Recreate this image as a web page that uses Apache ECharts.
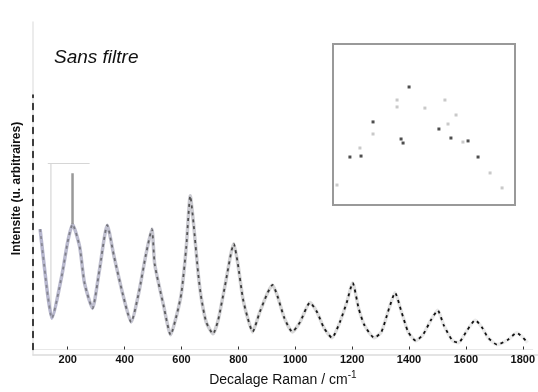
<!DOCTYPE html>
<html>
<head>
<meta charset="utf-8">
<script src="https://cdn.jsdelivr.net/npm/echarts@6/dist/echarts.min.js"></script>
<style>html,body{margin:0;padding:0;background:#fff;}#c{width:538px;height:392px;}</style>
</head>
<body>
<div id="c"></div>
<script>
// Raman shift (cm^-1) and intensity (a.u.)
const ramanShift = [103,113,130,144,179,200,217,242,259,287,311,339,363,395,423,450,475,496,506,537,562,583,600,617,631,642,659,670,687,711,729,753,784,798,816,833,850,875,903,920,937,962,990,1017,1052,1077,1101,1129,1157,1181,1202,1223,1243,1278,1303,1330,1351,1372,1397,1424,1449,1477,1501,1522,1553,1574,1605,1633,1658,1678,1710,1748,1779,1817];
const intensity = [36.9,29.1,16.5,9.6,22.5,33.0,38.4,31.5,20.4,12.6,24.0,38.1,28.5,16.5,8.4,17.4,29.1,36.9,26.1,13.5,4.5,10.5,17.4,31.5,47.1,39.0,23.1,15.6,8.4,4.8,9.0,19.5,32.4,26.4,15.6,9.6,5.4,11.4,17.4,19.8,16.5,9.6,5.4,8.4,14.4,11.4,6.6,3.6,8.4,14.4,20.4,12.6,7.5,3.6,5.4,12.6,17.4,12.0,5.4,2.7,4.5,9.0,12.0,7.5,2.7,2.1,6.0,9.0,6.6,3.6,1.5,3.0,5.1,2.1];
// narrow spike near 217 cm^-1
const spikeShift = [217, 217];
const spikeIntensity = [38.4, 54.0];
// faint bracket near the first peak
const bracketVShift = [141, 141];
const bracketVIntensity = [11, 57];
const bracketHShift = [130, 277];
const bracketHIntensity = [57, 57];
// x tick labels
const xTicks = [200,400,600,800,1000,1200,1400,1600,1800];
// inset scatter points (relative units 0-100)
const insetDarkX = [9.3,15.4,22.0,41.8,37.4,38.5,58.2,64.8,74.2,79.7];
const insetDarkY = [29.8,30.4,51.6,73.3,41.0,38.5,47.2,41.6,39.8,29.8];
const insetLightX = [14.8,22.0,35.2,35.2,50.5,61.5,63.2,67.6,71.4,86.3,92.9,2.2];
const insetLightY = [35.4,44.1,65.2,60.9,60.2,65.2,50.3,55.9,39.1,19.9,10.6,12.4];

const zip = (a, b) => a.map((v, i) => [v, b[i]]);

const chart = echarts.init(document.getElementById('c'), null, {renderer: 'canvas'});
const font = 'Liberation Sans';
chart.setOption({
  animation: false,
  backgroundColor: '#fff',
  title: {
    text: 'Sans filtre', left: 49, top: 43,
    textStyle: {fontFamily: font, fontStyle: 'italic', fontWeight: 'normal', fontSize: 19, color: '#111'}
  },
  grid: [
    {left: 33, right: 0, top: 95, bottom: 37, z: 3},
    {left: 33, right: 0, top: 22, bottom: 37, z: 1},
    {left: 333, top: 44, width: 182, height: 161, show: true, borderColor: '#999', borderWidth: 2, backgroundColor: '#fff', z: 5}
  ],
  xAxis: [
    {
      type: 'value', gridIndex: 0, min: 78, max: 1835,
      axisLine: {show: true, lineStyle: {color: '#e8e8e8', width: 1}},
      axisTick: {show: true, inside: true, length: 3, customValues: xTicks, lineStyle: {color: '#333'}},
      axisLabel: {customValues: xTicks, formatter: v => String(v), fontFamily: font, fontSize: 11, fontWeight: 'bold', color: '#111', margin: 5},
      splitLine: {show: false},
      name: 'Decalage Raman / cm{sup|-1}', nameLocation: 'middle', nameGap: 21,
      nameTextStyle: {fontFamily: font, fontSize: 14, color: '#111',
        rich: {sup: {fontFamily: font, fontSize: 10, color: '#111', verticalAlign: 'top', padding: [0, 0, 9, 0]}}}
    },
    {
      type: 'value', gridIndex: 1, position: 'top', min: 0, max: 1,
      axisLine: {show: true, lineStyle: {color: '#dcdcdc', width: 1.5}},
      axisTick: {show: false}, axisLabel: {show: false}, splitLine: {show: false}
    },
    {type: 'value', gridIndex: 2, min: 0, max: 100, show: false}
  ],
  yAxis: [
    {
      type: 'value', gridIndex: 0, min: 0, max: 78, z: 10,
      axisLine: {show: true, lineStyle: {color: '#111', width: 1.6, type: [6, 6]}},
      axisTick: {show: false}, axisLabel: {show: false}, splitLine: {show: false}
    },
    {
      type: 'value', gridIndex: 1, min: 0, max: 1, z: 0, offset: 1,
      axisLine: {show: true, lineStyle: {color: '#e6e6e6', width: 1.5}},
      axisTick: {show: false}, axisLabel: {show: false}, splitLine: {show: false},
      name: 'Intensite (u. arbitraires)', nameLocation: 'middle', nameGap: 9,
      nameTextStyle: {fontFamily: font, fontSize: 12, fontWeight: 'bold', color: '#111'}
    },
    {type: 'value', gridIndex: 2, min: 0, max: 100, show: false}
  ],
  series: [
    {
      type: 'line', xAxisIndex: 0, yAxisIndex: 0, data: zip(bracketVShift, bracketVIntensity),
      symbol: 'none', lineStyle: {color: '#d6d6d6', width: 1.2}, silent: true
    },
    {
      type: 'line', xAxisIndex: 0, yAxisIndex: 0, data: zip(bracketHShift, bracketHIntensity),
      symbol: 'none', lineStyle: {color: '#d6d6d6', width: 1.2}, silent: true
    },
    {
      type: 'line', xAxisIndex: 0, yAxisIndex: 0, data: zip(ramanShift, intensity),
      symbol: 'none', smooth: 0.2,
      lineStyle: {width: 3.5, color: new echarts.graphic.LinearGradient(0, 0, 1, 0, [
        {offset: 0, color: 'rgba(150,150,185,0.7)'},
        {offset: 0.45, color: 'rgba(170,170,170,0.5)'},
        {offset: 1, color: 'rgba(200,200,200,0.3)'}
      ])}
    },
    {
      type: 'line', xAxisIndex: 0, yAxisIndex: 0, data: zip(ramanShift, intensity),
      symbol: 'none', smooth: 0.2,
      lineStyle: {width: 1.8, type: [3, 4], color: new echarts.graphic.LinearGradient(0, 0, 1, 0, [
        {offset: 0, color: '#8a8a96'},
        {offset: 0.3, color: '#555'},
        {offset: 0.6, color: '#111'},
        {offset: 1, color: '#111'}
      ])}
    },
    {
      type: 'line', xAxisIndex: 0, yAxisIndex: 0, data: zip(spikeShift, spikeIntensity),
      symbol: 'none', lineStyle: {color: '#999', width: 2.5}
    },
    {
      type: 'scatter', xAxisIndex: 2, yAxisIndex: 2, data: zip(insetLightX, insetLightY),
      symbol: 'rect', symbolSize: 3, itemStyle: {color: '#bbb'}, z: 6
    },
    {
      type: 'scatter', xAxisIndex: 2, yAxisIndex: 2, data: zip(insetDarkX, insetDarkY),
      symbol: 'rect', symbolSize: 3, itemStyle: {color: '#222'}, z: 7
    }
  ]
});
</script>
</body>
</html>
